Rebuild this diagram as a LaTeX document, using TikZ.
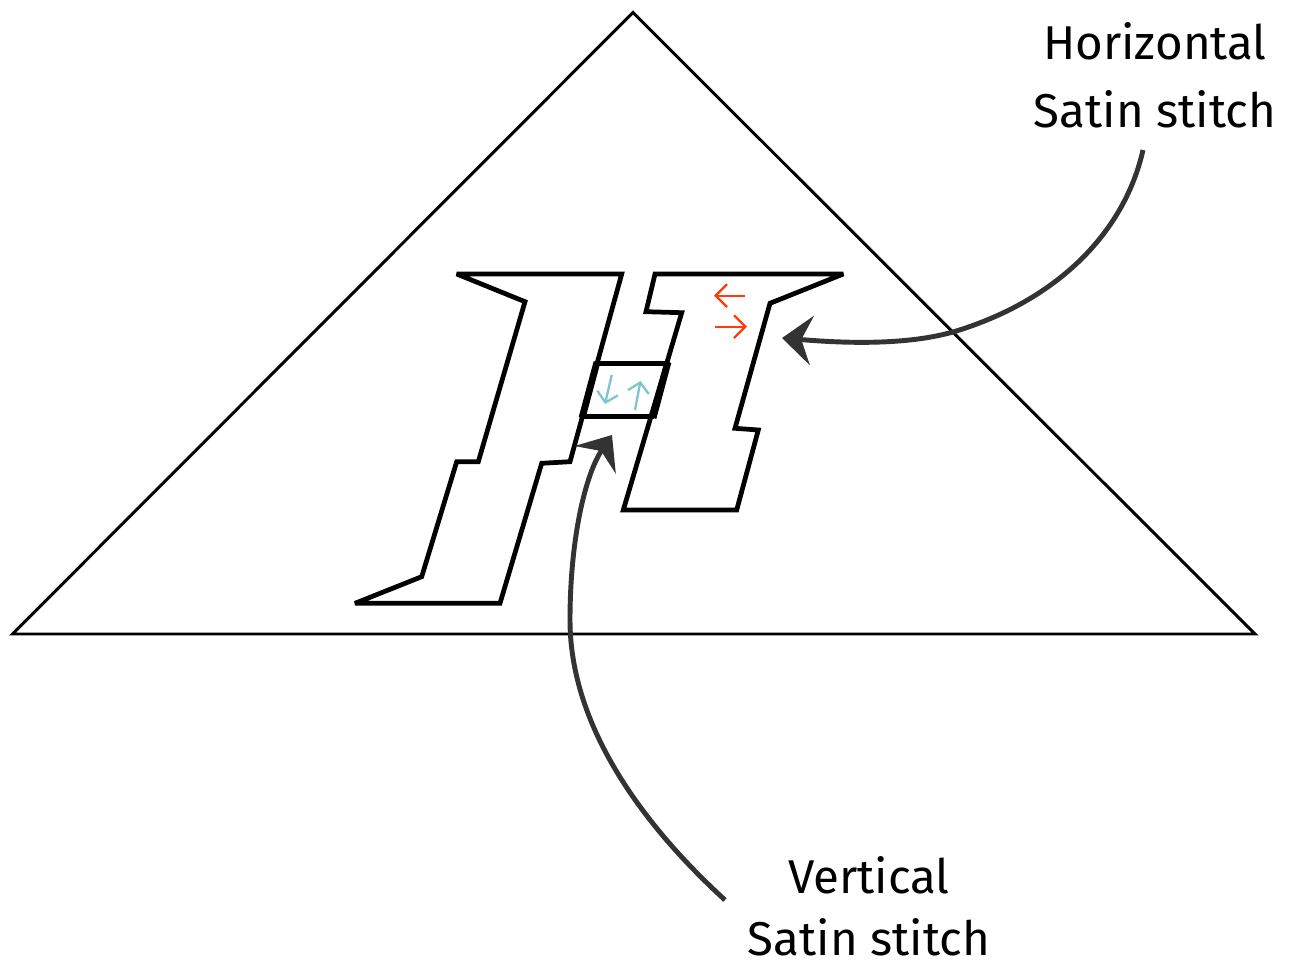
\documentclass[tikz,border=0pt]{standalone}
\usepackage{fontspec}
\setmainfont{Fira Sans}
\usetikzlibrary{arrows.meta}
\definecolor{arrowgray}{HTML}{333333}
\definecolor{stitchred}{HTML}{FF3B0A}
\definecolor{stitchcyan}{HTML}{7EC5CB}
\begin{document}
\begin{tikzpicture}[x=0.02cm,y=-0.02cm,
  trianglestroke/.style={draw=black, line width=1.7pt, line join=miter},
  hstroke/.style={draw=black, line width=2.7pt, line join=miter, miter limit=3},
  barside/.style={draw=black, line width=3.9pt, line cap=butt},
  barline/.style={draw=black, line width=2.3pt},
  callout/.style={draw=arrowgray, line width=2.8pt, -{Stealth[length=17pt,width=28pt,inset=6pt]}},
  redarrow/.style={draw=stitchred, line width=1.3pt, -{Straight Barb[length=6.5pt,width=13pt]}},
  cyanarrow/.style={draw=stitchcyan, line width=1.3pt, -{Straight Barb[length=5.5pt,width=12pt]}},
  lbltext/.style={font=\fontsize{27}{32}\selectfont, anchor=base, inner sep=0pt}
]
\useasboundingbox (0,0) rectangle (1292,966);

% triangle
\draw[trianglestroke] (633,12.5) -- (1255,634) -- (12.5,634) -- cycle;

% left stem of the H
\draw[hstroke] (456.7,274) -- (621.7,274) -- (570,461.7) -- (541.7,463.3)
  -- (500,603.3) -- (355,603.3) -- (421.7,576.7) -- (456.7,461.7)
  -- (478.3,461.7) -- (525,301.7) -- cycle;

% right stem of the H
\draw[hstroke] (655,274) -- (843.3,274) -- (770,303.3) -- (735,428.3)
  -- (758.3,430) -- (736.7,510) -- (623.3,510) -- (681.7,312.7)
  -- (646,311.7) -- cycle;

% crossbar
\draw[barline] (596.7,363.5) -- (668,363.5);
\draw[barline] (582,416.5) -- (654,416.5);
\draw[barside] (597,362) -- (582,418);
\draw[barside] (668,362) -- (653,418);

% stitch direction arrows
\draw[redarrow] (745,295.7) -- (714,295.7);
\draw[redarrow] (715,326.7) -- (747,326.7);
\draw[cyanarrow] (611.7,375) -- (605,404);
\draw[cyanarrow] (635,410) -- (640.5,381);

% labels
\node[lbltext] (hl1) at (1155,60) {Horizontal};
\node[lbltext] (hl2) at (1155,128) {Satin stitch};
\node[lbltext] (vl1) at (869,893) {Vertical};
\node[lbltext] (vl2) at (869,955) {Satin stitch};

% callout arrows
\coordinate (hs) at (1143,150);
\coordinate (he) at (782,338);
\coordinate (vs) at (725,900);
\coordinate (ve) at (612,435);
\draw[callout] (hs) .. controls (1125,230) and (1060,300) .. (953,332)
  .. controls (900,347) and (830,342) .. (he);
\draw[callout] (vs) .. controls (655,836) and (570,735) .. (570,620)
  .. controls (570,540) and (585,475) .. (ve);
\end{tikzpicture}
\end{document}
